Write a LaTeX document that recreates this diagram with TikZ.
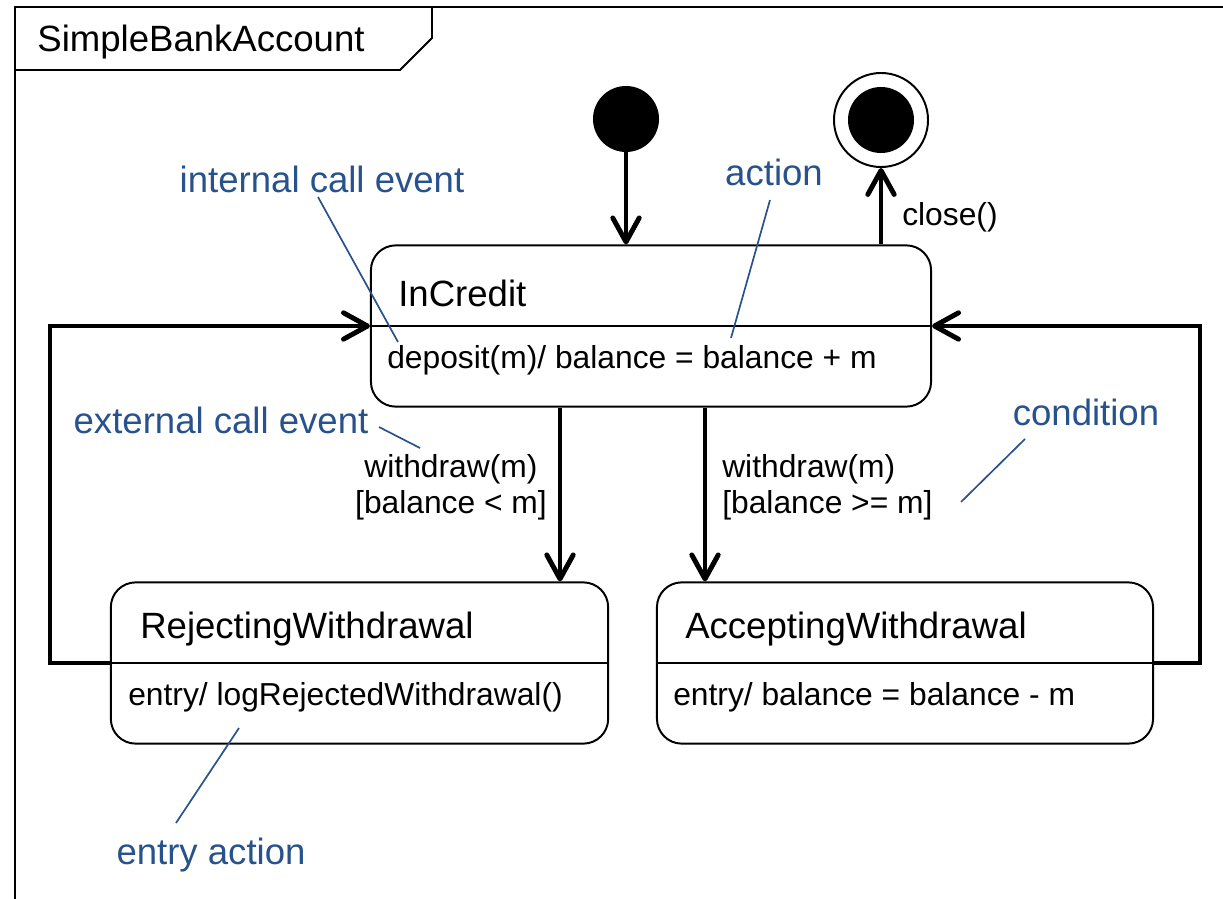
\documentclass[tikz,border=0pt]{standalone}
\usepackage{fontspec}
\setmainfont{Liberation Sans}
\usetikzlibrary{arrows.meta}
\definecolor{notecol}{RGB}{40,82,140}
\tikzset{
  statebox/.style={draw, line width=1.4pt, rounded corners=0.62cm, minimum height=4.03cm},
  trans/.style={line width=3.5pt, line join=miter, -{Straight Barb[length=0.6cm,width=0.66cm,round]}},
  note/.style={draw=notecol, line width=1.2pt},
  notetext/.style={text=notecol, font=\fontsize{26}{30}\selectfont},
  bigtext/.style={font=\fontsize{26}{30}\selectfont, inner sep=0pt},
  smalltext/.style={font=\fontsize{22.6}{25.5}\selectfont, inner sep=0pt},
}
\begin{document}
\begin{tikzpicture}[x=0.025cm, y=-0.025cm]
\useasboundingbox (0,0) rectangle (1223,899);

\draw[line width=1.4pt] (15,899) -- (15,7) -- (1223,7);
\draw[line width=1.4pt] (15,70) -- (400,70) -- (432,38) -- (432,7);
\node[bigtext] (title) at (201,42) {SimpleBankAccount};

\node[statebox, minimum width=14cm] (inc) at (651,326) {};
\node[statebox, minimum width=12.43cm] (rej) at (359.5,663) {};
\node[statebox, minimum width=12.4cm] (acc) at (905,663) {};
\draw[line width=1.4pt] (inc.west) -- (inc.east);
\draw[line width=1.4pt] (rej.west) -- (rej.east);
\draw[line width=1.4pt] (acc.west) -- (acc.east);

\node[bigtext, anchor=west] (incname) at (398,293) {InCredit};
\node[smalltext, anchor=west] (incdo) at (387,360) {deposit(m)/ balance = balance + m};
\node[bigtext, anchor=west] (rejname) at (140,629) {RejectingWithdrawal};
\node[smalltext, anchor=west] (rejentry) at (128,697) {entry/ logRejectedWithdrawal()};
\node[bigtext, anchor=west] (accname) at (685,629) {AcceptingWithdrawal};
\node[smalltext, anchor=west] (accentry) at (673,697) {entry/ balance = balance - m};

\node[circle, fill, minimum size=1.65cm, inner sep=0pt] (init) at (626,119) {};
\node[circle, draw, line width=1.4pt, minimum size=2.35cm, inner sep=0pt] (fin) at (881,120) {};
\node[circle, fill, minimum size=1.65cm, inner sep=0pt] (fincore) at (fin) {};

\draw[trans] (init) -- (init |- inc.north);
\draw[trans] (fin |- inc.north) -- (fin);
\node[smalltext, anchor=west] (closelbl) at (902,217) {close()};

\coordinate (wrej) at (560,0);
\coordinate (wacc) at (705,0);
\draw[trans] (inc.south -| wrej) -- (rej.north -| wrej);
\draw[trans] (inc.south -| wacc) -- (acc.north -| wacc);
\node[smalltext, align=center] (rejguard) at (451,487) {withdraw(m)\\{[balance < m]}};
\node[smalltext, align=left, anchor=west] (accguard) at (722,487) {withdraw(m)\\{[balance >= m]}};

\coordinate (lx) at (50,0);
\coordinate (rx) at (1200,0);
\draw[trans] (rej.west) -- (rej.west -| lx) -- (inc.west -| lx) -- (inc.west);
\draw[trans] (acc.east) -- (acc.east -| rx) -- (inc.east -| rx) -- (inc.east);

\node[notetext] (ice) at (322,179) {internal call event};
\node[notetext] (act) at (774,172) {action};
\node[notetext] (ece) at (221,420) {external call event};
\node[notetext] (cond) at (1086,412) {condition};
\node[notetext] (ent) at (211,855) {entry action};

\coordinate (ice-a) at (318,197);
\coordinate (ice-b) at (398,342);
\coordinate (act-a) at (770,200);
\coordinate (act-b) at (731,338);
\coordinate (ece-a) at (379,427);
\coordinate (ece-b) at (420,448);
\coordinate (cond-a) at (1025,439);
\coordinate (cond-b) at (961,502);
\coordinate (ent-a) at (239,728);
\coordinate (ent-b) at (176,823);
\draw[note] (ice-a) -- (ice-b);
\draw[note] (act-a) -- (act-b);
\draw[note] (ece-a) -- (ece-b);
\draw[note] (cond-a) -- (cond-b);
\draw[note] (ent-a) -- (ent-b);
\end{tikzpicture}
\end{document}
